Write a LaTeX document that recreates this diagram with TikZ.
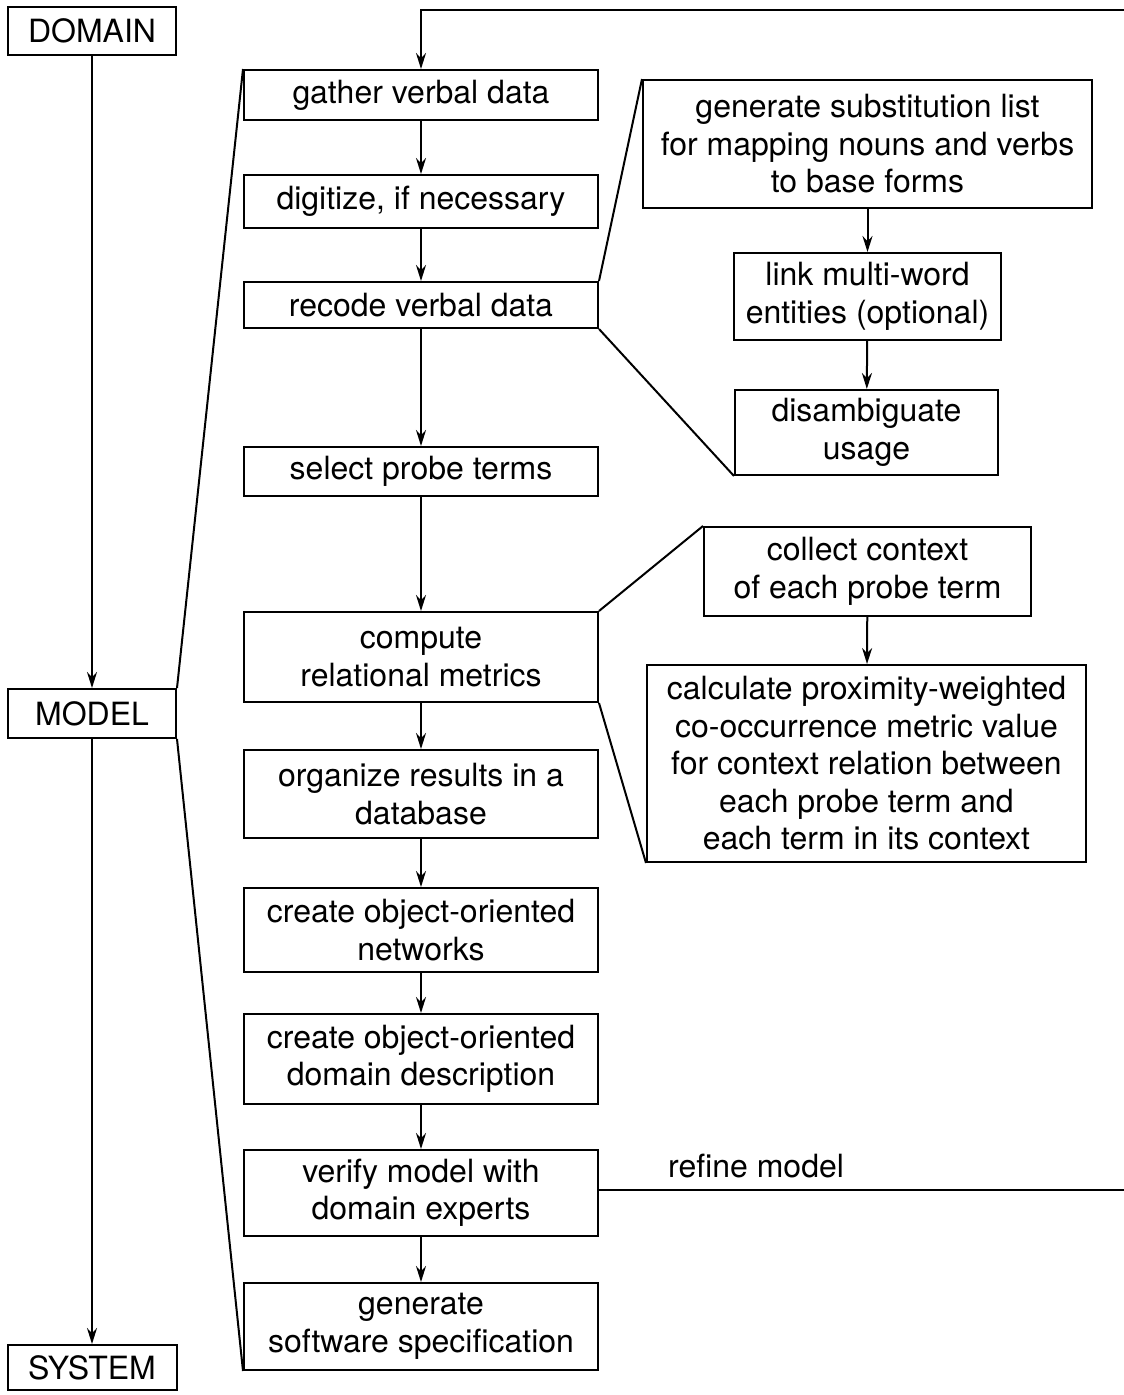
\documentclass[tikz,border=0pt]{standalone}
\usepackage{fontspec}
\setmainfont{TeX Gyre Heros}
\usetikzlibrary{arrows.meta}
\begin{document}
\begin{tikzpicture}[x=1pt,y=-1pt,
  box/.style={draw, line width=2pt, inner sep=0pt, align=center, font=\fontsize{32}{37.5}\selectfont},
  flow/.style={line width=2pt, -{Stealth[length=16pt,width=10pt]}},
  link/.style={line width=2pt},
  lbl/.style={font=\fontsize{32}{37.5}\selectfont, inner sep=0pt}]
\useasboundingbox (0,0) rectangle (1124,1395);
% left column
\node[box, minimum width=168, minimum height=48] (domain) at (92,31) {DOMAIN};
\node[box, minimum width=168, minimum height=49] (model) at (92,713.5) {MODEL};
\node[box, minimum width=169, minimum height=45] (system) at (92,1367.5) {SYSTEM};
% main column
\node[box, minimum width=354, minimum height=50] (gather) at (421,95) {gather verbal data};
\node[box, minimum width=354, minimum height=53] (digitize) at (421,201.5) {digitize, if necessary};
\node[box, minimum width=354, minimum height=46] (recode) at (421,305) {recode verbal data};
\node[box, minimum width=354, minimum height=49] (select) at (421,471.5) {select probe terms};
\node[box, minimum width=354, minimum height=90] (compute) at (421,657) {compute\\relational metrics};
\node[box, minimum width=354, minimum height=88] (organize) at (421,794) {organize results in a\\database};
\node[box, minimum width=354, minimum height=84] (networks) at (421,930) {create object-oriented\\networks};
\node[box, minimum width=354, minimum height=90] (domdesc) at (421,1059) {create object-oriented\\domain description};
\node[box, minimum width=354, minimum height=86] (verify) at (421,1193) {verify model with\\domain experts};
\node[box, minimum width=354, minimum height=87] (genspec) at (421,1326.5) {generate\\software specification};
% right column
\node[box, minimum width=449, minimum height=128] (subst) at (867.5,144) {generate substitution list\\for mapping nouns and verbs\\to base forms};
\node[box, minimum width=267, minimum height=87] (multi) at (867.5,296.5) {link multi-word\\entities (optional)};
\node[box, minimum width=263, minimum height=85] (disamb) at (866.5,432.5) {disambiguate\\usage};
\node[box, minimum width=327, minimum height=89] (collect) at (867.5,571.5) {collect context\\of each probe term};
\node[box, minimum width=439, minimum height=197] (calc) at (866.5,763.5) {calculate proximity-weighted\\co-occurrence metric value\\for context relation between\\each probe term and\\each term in its context};
% arrows
\draw[flow] (domain) -- (model);
\draw[flow] (model) -- (system);
\draw[flow] (gather) -- (digitize);
\draw[flow] (digitize) -- (recode);
\draw[flow] (recode) -- (select);
\draw[flow] (select) -- (compute);
\draw[flow] (compute) -- (organize);
\draw[flow] (organize) -- (networks);
\draw[flow] (networks) -- (domdesc);
\draw[flow] (domdesc) -- (verify);
\draw[flow] (verify) -- (genspec);
\draw[flow] (subst) -- (multi);
\draw[flow] (multi) -- (disamb);
\draw[flow] (collect) -- (calc);
% expansion brackets
\draw[link] (model.north east) -- (gather.north west);
\draw[link] (model.south east) -- (genspec.south west);
\draw[link] (recode.north east) -- (subst.north west);
\draw[link] (recode.south east) -- (disamb.south west);
\draw[link] (compute.north east) -- (collect.north west);
\draw[link] (compute.south east) -- (calc.south west);
% feedback loop (its right side runs just beyond the picture's edge)
\coordinate (fbR) at (1130,1190);
\coordinate (fbT) at (1130,10);
\draw[flow] (verify.east |- fbR) -- (fbR) -- (fbT) -- (gather.north |- fbT) -- (gather.north);
\node[lbl, anchor=base west] (refine) at (668,1177) {refine model};
\end{tikzpicture}
\end{document}
